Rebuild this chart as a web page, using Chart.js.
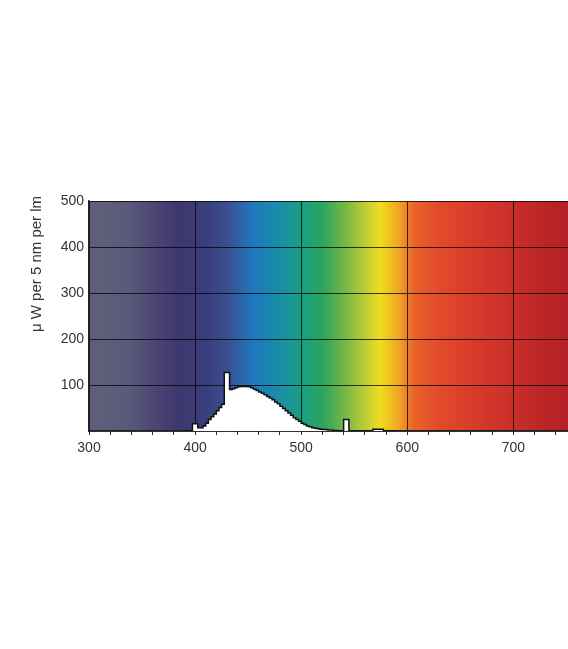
<!DOCTYPE html>
<html>
<head>
<meta charset="utf-8">
<script src="https://cdn.jsdelivr.net/npm/chart.js@4/dist/chart.umd.min.js"></script>
<style>
  html, body { margin: 0; padding: 0; background: #fff; }
  canvas { display: block; }
</style>
</head>
<body>
<canvas id="spectrum" width="568" height="649"></canvas>
<script>
// spectral power distribution
// each edge is where a new level starts
const edges = [390, 397.5, 402.5, 407.5, 410, 412.5, 415, 417.5, 420, 422.5, 425,
  427.5, 432.5, 435, 437.5, 440, 442.5, 450, 452.5, 455, 457.5, 460, 462.5, 465,
  467.5, 470, 472.5, 475, 477.5, 480, 482.5, 485, 487.5, 490, 492.5, 495, 497.5,
  500, 502.5, 505, 507.5, 510, 512.5, 515, 517.5, 520, 525, 530, 535, 540, 545,
  567.5, 577.5, 590];
const power = [0, 16, 7, 11, 17, 25, 31, 37, 44, 51, 58,
  127, 90, 92, 94, 96, 97, 96, 94, 91, 88, 85, 82, 79,
  75, 72, 68, 63, 59, 54, 49, 44, 39, 34, 29, 25, 21,
  17, 14, 11, 9, 7, 6, 5, 4, 3, 2, 1, 0, 25, 0,
  4, 0, 0];

const yTicks = [100, 200, 300, 400, 500];
const xLabels = [300, 400, 500, 600, 700];
const yTitle = 'μ W per 5 nm per lm';

// colours of the spectrum backdrop
const bandNm = [300, 335, 360, 385, 410, 430, 455, 480, 500, 520, 540, 558, 575, 592, 606, 630, 680, 752];
const bandColors = ['#5e6079', '#5b5a7a', '#4d4773', '#3f366d', '#393f7c', '#3a4e8f', '#1f78be',
  '#1a8ea6', '#1a9e82', '#2ba45e', '#72b648', '#b6ca36', '#f1dc1f', '#f0a522', '#e8642a',
  '#e24a2b', '#d1352b', '#b31f25'];

// with stepped 'before' each level holds from its edge to the next edge
const points = edges.map((x, i) => ({ x: x, y: power[i] }));

const spectrumBackdrop = {
  id: 'spectrumBackdrop',
  beforeDraw(chart) {
    const { ctx, chartArea, scales } = chart;
    const g = ctx.createLinearGradient(chartArea.left, 0, chartArea.right, 0);
    const w = chartArea.right - chartArea.left;
    bandNm.forEach((nm, i) => {
      let t = (scales.x.getPixelForValue(nm) - chartArea.left) / w;
      t = Math.min(1, Math.max(0, t));
      g.addColorStop(t, bandColors[i]);
    });
    ctx.save();
    ctx.fillStyle = g;
    ctx.fillRect(chartArea.left, chartArea.top, w, chartArea.bottom - chartArea.top);
    ctx.restore();
  }
};

const sideTitle = {
  id: 'sideTitle',
  afterDraw(chart) {
    const ctx = chart.ctx;
    ctx.save();
    ctx.translate(37, 264);
    ctx.rotate(-Math.PI / 2);
    ctx.font = '15px "Liberation Sans", Arial, sans-serif';
    ctx.fillStyle = '#333';
    ctx.textAlign = 'center';
    ctx.textBaseline = 'middle';
    ctx.fillText(yTitle, 0, 0);
    ctx.restore();
  }
};

new Chart(document.getElementById('spectrum'), {
  type: 'line',
  data: {
    datasets: [{
      data: points,
      stepped: 'before',
      fill: 'origin',
      backgroundColor: '#ffffff',
      borderColor: '#111',
      borderWidth: 1.5,
      pointRadius: 0,
      tension: 0
    }]
  },
  options: {
    responsive: false,
    animation: false,
    events: [],
    layout: { padding: { left: 0, right: 0, top: 201, bottom: 188 } },
    plugins: { legend: { display: false }, tooltip: { enabled: false } },
    scales: {
      x: {
        type: 'linear',
        min: 300,
        max: 751.5,
        afterFit: s => { s.height = 30; },
        ticks: {
          stepSize: 20,
          includeBounds: false,
          autoSkip: false,
          maxRotation: 0,
          padding: 5,
          color: '#333',
          font: { family: '"Liberation Sans", Arial, sans-serif', size: 14 },
          callback: v => xLabels.includes(v) ? String(v) : ''
        },
        grid: {
          color: c => (c.tick && c.tick.value % 100 === 0) ? 'rgba(0,0,0,0.75)' : 'rgba(0,0,0,0)',
          tickColor: '#333',
          tickLength: 4,
          lineWidth: 1
        },
        border: { color: '#222', width: 1.5 }
      },
      y: {
        min: 0,
        max: 500,
        afterFit: s => { s.width = 89; },
        ticks: {
          stepSize: 100,
          padding: 5,
          color: '#333',
          font: { family: '"Liberation Sans", Arial, sans-serif', size: 14 },
          callback: v => yTicks.includes(v) ? String(v) : ''
        },
        grid: {
          color: 'rgba(0,0,0,0.75)',
          lineWidth: 1,
          drawTicks: false
        },
        border: { color: '#222', width: 1.5 }
      }
    }
  },
  plugins: [spectrumBackdrop, sideTitle]
});
</script>
</body>
</html>
